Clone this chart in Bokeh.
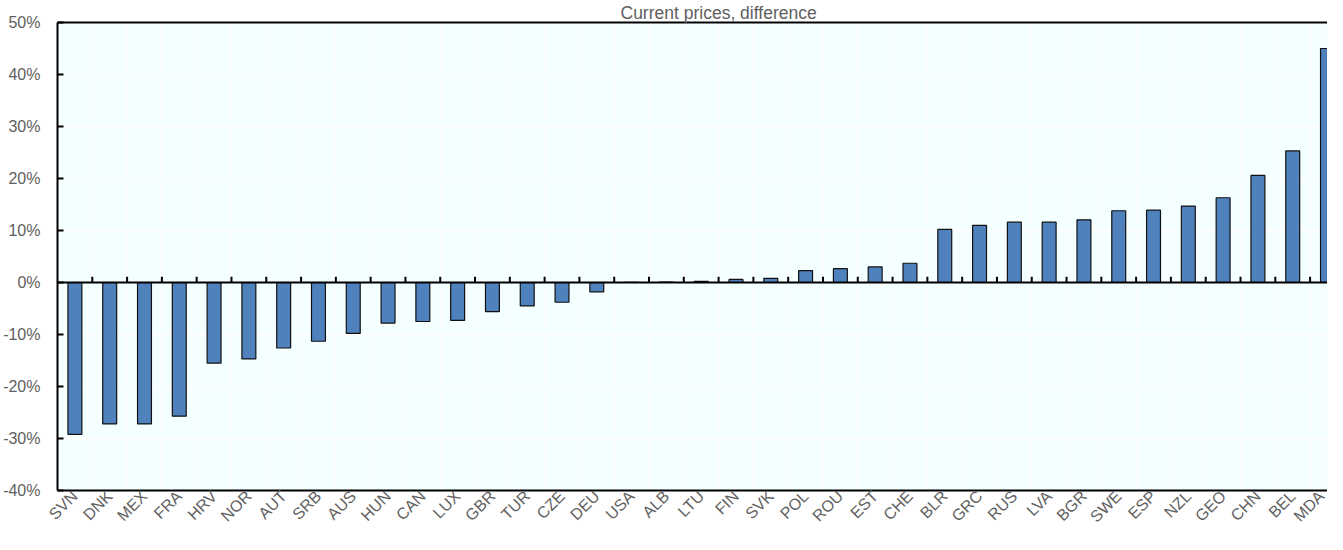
import math
from bokeh.plotting import figure
from bokeh.models import FixedTicker, Span, LinearAxis, Range1d, ColumnDataSource
from bokeh.embed import file_html
from bokeh.resources import INLINE

countries = ["SVN", "DNK", "MEX", "FRA", "HRV", "NOR", "AUT", "SRB", "AUS", "HUN",
             "CAN", "LUX", "GBR", "TUR", "CZE", "DEU", "USA", "ALB", "LTU", "FIN",
             "SVK", "POL", "ROU", "EST", "CHE", "BLR", "GRC", "RUS", "LVA", "BGR",
             "SWE", "ESP", "NZL", "GEO", "CHN", "BEL", "MDA"]
values = [-29.2, -27.2, -27.2, -25.7, -15.5, -14.7, -12.6, -11.3, -9.8, -7.8,
          -7.5, -7.3, -5.6, -4.5, -3.8, -1.8, 0.05, 0.1, 0.2, 0.6,
          0.8, 2.3, 2.65, 3.0, 3.7, 10.2, 11.0, 11.6, 11.6, 12.05,
          13.8, 13.9, 14.7, 16.3, 20.6, 25.3, 45.0]
y_ticks = [-40, -30, -20, -10, 0, 10, 20, 30, 40, 50]
title_text = "Current prices, difference"

FONT = "Liberation Sans"
GRAY = "#606060"

n = len(countries)
centers = [i + 0.5 for i in range(n)]
bounds = list(range(1, n))

src = ColumnDataSource(dict(x=centers, top=values))

p = figure(width=1327, height=534, output_backend="svg", toolbar_location=None,
           x_range=Range1d(0, centers[-1]), y_range=Range1d(y_ticks[0], y_ticks[-1]),
           min_border_left=57, min_border_right=0, min_border_top=0, min_border_bottom=0)

p.background_fill_color = "#F4FFFF"
p.border_fill_color = "white"
p.outline_line_color = None

p.title.text = title_text
p.title.align = "left"
p.title.text_font = FONT
p.title.text_font_size = "17.5px"
p.title.text_font_style = "normal"
p.title.text_color = GRAY
p.title.standoff = 0
p.title.offset = 563

# grids
p.xgrid.ticker = FixedTicker(ticks=bounds)
p.ygrid.ticker = FixedTicker(ticks=y_ticks)
for g in (p.xgrid, p.ygrid):
    g.grid_line_color = "white"
    g.grid_line_width = 1.5

# y axis
ya = p.yaxis[0]
ya.ticker = FixedTicker(ticks=y_ticks)
ya.major_label_overrides = {t: f"{t}%" for t in y_ticks}
ya.axis_line_color = "black"
ya.axis_line_width = 2
ya.major_tick_in = 6
ya.major_tick_out = 0
ya.major_tick_line_width = 2
ya.minor_tick_line_color = None
ya.major_label_standoff = 17
ya.major_label_text_font = FONT
ya.major_label_text_font_size = "16px"
ya.major_label_text_color = GRAY

# x axis
xa = p.xaxis[0]
xa.ticker = FixedTicker(ticks=centers)
xa.major_label_overrides = {c: name for c, name in zip(centers, countries)}
xa.major_label_orientation = math.pi / 4
xa.axis_line_color = "black"
xa.axis_line_width = 2
xa.major_tick_in = 0
xa.major_tick_out = 0
xa.minor_tick_line_color = None
xa.major_label_standoff = 3
xa.major_label_text_font = FONT
xa.major_label_text_font_size = "16px"
xa.major_label_text_color = GRAY

# top border
top_ax = LinearAxis(ticker=FixedTicker(ticks=[]), axis_line_color="black", axis_line_width=2,
                    major_tick_in=0, major_tick_out=0, minor_tick_line_color=None,
                    major_label_text_font_size="0px", major_label_standoff=0)
p.add_layout(top_ax, "above")

# bars
p.vbar(x="x", top="top", bottom=0, width=0.4, source=src,
       fill_color="#4F81BD", line_color="#111111", line_width=1.2)

# zero line with tick marks
p.add_layout(Span(location=0, dimension="width", line_color="black", line_width=2))
p.segment(x0=bounds, y0=[0] * len(bounds), x1=bounds, y1=[1.1] * len(bounds),
          line_color="black", line_width=2)

open("out.html", "w").write(file_html(p, INLINE))
